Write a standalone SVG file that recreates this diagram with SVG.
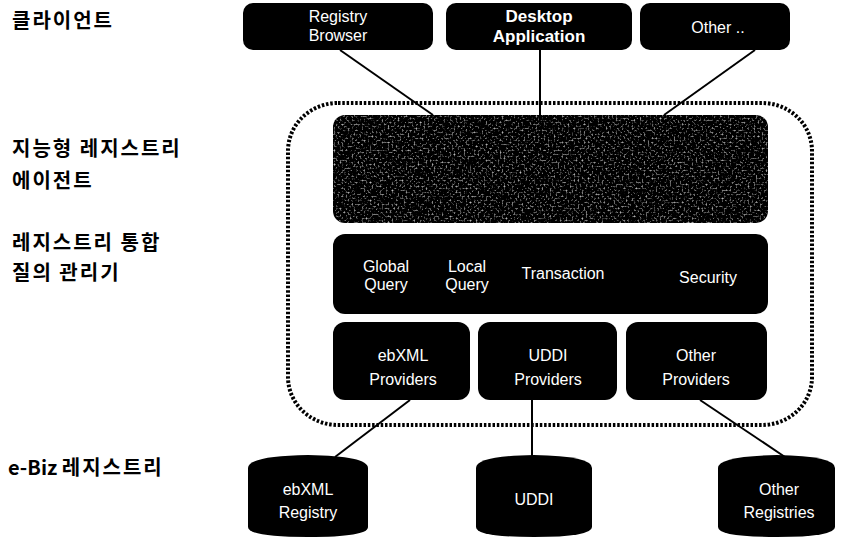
<svg xmlns="http://www.w3.org/2000/svg" width="841" height="537" viewBox="0 0 841 537">
  <defs>
    <style>
      .lbl { font-family: "Noto Sans CJK KR", "Liberation Sans", sans-serif; font-size: 20px; font-weight: 700; letter-spacing: 2px; fill: #000; }
      .lat { letter-spacing: 0px; }
      .box { fill: #000; }
      .txt { font-family: "Liberation Sans", Arial, sans-serif; font-size: 16px; fill: #fff; text-anchor: middle; }
      .txtb { font-family: "Liberation Sans", Arial, sans-serif; font-size: 17px; font-weight: 700; fill: #fff; text-anchor: middle; }
      .conn line { stroke: #000; stroke-width: 2; }
      .dots { fill: none; stroke: #000; stroke-width: 4; stroke-dasharray: 2.5 1.8; }
    </style>
    <!-- speckled grey texture for the agent panel -->
    <filter id="grain" x="0" y="0" width="100%" height="100%">
      <feTurbulence type="fractalNoise" baseFrequency="0.5" numOctaves="3" seed="11" result="n"/>
      <feColorMatrix in="n" type="matrix" values="0 0 0 0 0.6  0 0 0 0 0.6  0 0 0 0 0.6  0 0 0 2.8 -1.45" result="speck"/>
      <feComposite in="speck" in2="SourceGraphic" operator="in"/>
    </filter>
  </defs>

  <rect width="841" height="537" fill="#fff"/>

  <!-- layer labels -->
  <g id="labels">
    <text class="lbl" x="12" y="28">클라이언트</text>
    <text class="lbl" x="12" y="156">지능형 레지스트리</text>
    <text class="lbl" x="12" y="188">에이전트</text>
    <text class="lbl" x="12" y="250">레지스트리 통합</text>
    <text class="lbl" x="12" y="280">질의 관리기</text>
    <text class="lbl" x="8" y="475"><tspan class="lat">e-Biz </tspan>레지스트리</text>
  </g>

  <!-- connectors -->
  <g id="connectors" class="conn">
    <line x1="340" y1="50" x2="433" y2="115"/>
    <line x1="540" y1="50" x2="540" y2="115"/>
    <line x1="755" y1="50" x2="664" y2="115"/>
    <line x1="410" y1="400" x2="335" y2="457"/>
    <line x1="532" y1="400" x2="532" y2="457"/>
    <line x1="700" y1="400" x2="785" y2="457"/>
  </g>

  <!-- dotted boundary of the integration layer -->
  <g id="boundary">
    <rect class="dots" x="288" y="103" width="524" height="322" rx="50" ry="48"/>
  </g>

  <!-- clients -->
  <g id="registry-browser">
    <rect class="box" x="243" y="3" width="190" height="47" rx="10"/>
    <text class="txt" x="338" y="22">Registry</text>
    <text class="txt" x="338" y="41">Browser</text>
  </g>
  <g id="desktop-application">
    <rect class="box" x="446" y="3" width="186" height="47" rx="10"/>
    <text class="txtb" x="539" y="22">Desktop</text>
    <text class="txtb" x="539" y="42">Application</text>
  </g>
  <g id="other-client">
    <rect class="box" x="640" y="3" width="150" height="47" rx="10"/>
    <text class="txt" x="718" y="33">Other ..</text>
  </g>

  <!-- intelligent registry agent -->
  <g id="agent">
    <rect class="box" x="333" y="115" width="435" height="108" rx="12"/>
    <rect x="333" y="115" width="435" height="108" rx="12" fill="#000" filter="url(#grain)"/>
  </g>

  <!-- integrated query manager -->
  <g id="query-manager">
    <rect class="box" x="333" y="234" width="435" height="80" rx="12"/>
    <text class="txt" x="386" y="272">Global</text>
    <text class="txt" x="386" y="290">Query</text>
    <text class="txt" x="467" y="272">Local</text>
    <text class="txt" x="467" y="290">Query</text>
    <text class="txt" x="563" y="279">Transaction</text>
    <text class="txt" x="708" y="283">Security</text>
  </g>

  <!-- providers -->
  <g id="ebxml-providers">
    <rect class="box" x="333" y="322" width="137" height="78" rx="12"/>
    <text class="txt" x="403" y="361">ebXML</text>
    <text class="txt" x="403" y="385">Providers</text>
  </g>
  <g id="uddi-providers">
    <rect class="box" x="478" y="322" width="139" height="78" rx="12"/>
    <text class="txt" x="548" y="361">UDDI</text>
    <text class="txt" x="548" y="385">Providers</text>
  </g>
  <g id="other-providers">
    <rect class="box" x="626" y="322" width="141" height="78" rx="12"/>
    <text class="txt" x="696" y="361">Other</text>
    <text class="txt" x="696" y="385">Providers</text>
  </g>

  <!-- registries -->
  <g id="ebxml-registry">
    <path class="box" d="M248,468 Q248,456 308,455 Q368,456 368,468 L368,527 Q368,537 308,537 Q248,537 248,527 Z"/>
    <text class="txt" x="308" y="495">ebXML</text>
    <text class="txt" x="308" y="518">Registry</text>
  </g>
  <g id="uddi-registry">
    <path class="box" d="M476,468 Q476,456 534,455 Q592,456 592,468 L592,527 Q592,537 534,537 Q476,537 476,527 Z"/>
    <text class="txt" x="534" y="505">UDDI</text>
  </g>
  <g id="other-registries">
    <path class="box" d="M718,468 Q718,456 777,455 Q835,456 835,468 L835,527 Q835,537 777,537 Q718,537 718,527 Z"/>
    <text class="txt" x="779" y="495">Other</text>
    <text class="txt" x="779" y="518">Registries</text>
  </g>
</svg>
